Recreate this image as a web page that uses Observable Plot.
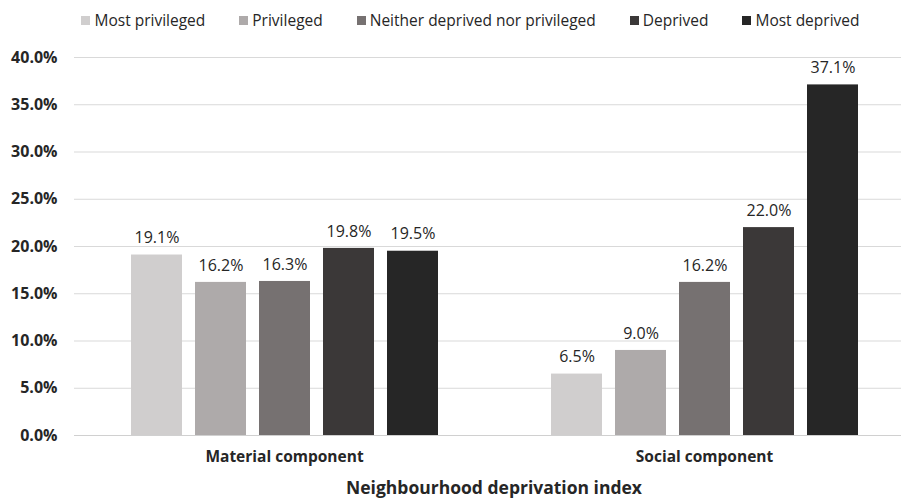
<!DOCTYPE html>
<html>
<head>
<meta charset="utf-8">
<script src="https://cdn.jsdelivr.net/npm/d3@7"></script>
<script src="https://cdn.jsdelivr.net/npm/@observablehq/plot@0.6"></script>
<style>
  html, body { margin: 0; padding: 0; background: #fff; }
  body { width: 901px; height: 498px; overflow: hidden; font-family: "Open Sans", "Noto Sans", sans-serif; }
  #legend { height: 40px; display: flex; align-items: center; justify-content: center; padding-left: 40px; box-sizing: border-box; font-size: 15.5px; color: #262626; }
  .item { display: flex; align-items: center; margin: 0 17px; }
  .sw { width: 9px; height: 9px; margin-right: 4px; }
  #caption { height: 22px; line-height: 22px; text-align: center; padding-left: 87px; font-weight: bold; font-size: 17.5px; color: #262626; }
</style>
</head>
<body>
<div id="legend"></div>
<div id="chart"></div>
<div id="caption"></div>
<script>
const groups = ["Material component", "Social component"];
const levels = ["Most privileged", "Privileged", "Neither deprived nor privileged", "Deprived", "Most deprived"];
const materialValues = [19.1, 16.2, 16.3, 19.8, 19.5];
const socialValues = [6.5, 9.0, 16.2, 22.0, 37.1];
const colors = ["#d0cece", "#aeaaaa", "#767171", "#3b3838", "#262626"];
const yTicks = [0, 5, 10, 15, 20, 25, 30, 35, 40];
const axisTitle = "Neighbourhood deprivation index";

const data = [];
levels.forEach((l, i) => data.push({group: groups[0], level: l, value: materialValues[i]}));
levels.forEach((l, i) => data.push({group: groups[1], level: l, value: socialValues[i]}));

const legend = document.getElementById("legend");
levels.forEach((l, i) => {
  const it = document.createElement("div");
  it.className = "item";
  const sw = document.createElement("div");
  sw.className = "sw";
  sw.style.background = colors[i];
  const t = document.createElement("span");
  t.textContent = l;
  it.appendChild(sw); it.appendChild(t);
  legend.appendChild(it);
});
document.getElementById("caption").textContent = axisTitle;

const chart = Plot.plot({
  width: 901,
  height: 436,
  marginTop: 17,
  marginBottom: 41,
  marginLeft: 74,
  marginRight: 0,
  style: {fontFamily: "Open Sans, Noto Sans, sans-serif", color: "#262626", display: "block"},
  fx: {domain: groups, range: [74, 914], padding: 0, label: null},
  x: {domain: levels, range: [130, 439], paddingInner: 0.21, paddingOuter: 0, axis: null},
  y: {domain: [0, 40], label: null},
  color: {domain: levels, range: colors},
  marks: [
    Plot.gridY(yTicks, {stroke: "#d9d9d9", strokeOpacity: 1}),
    Plot.barY(data, {fx: "group", x: "level", y: "value", fill: "level"}),
    Plot.ruleY([0], {stroke: "#d0d0d0"}),
    Plot.text(data, {fx: "group", x: "level", y: "value", text: d => d.value.toFixed(1) + "%", dy: -17, fontSize: 16, fill: "#262626"}),
    Plot.axisY({ticks: yTicks, tickSize: 0, tickPadding: 17, tickFormat: d => d.toFixed(1) + "%", fontWeight: "bold", fontSize: 16, label: null}),
    Plot.axisFx({anchor: "bottom", tickSize: 0, tickPadding: 15, fontWeight: "bold", fontSize: 15.5, label: null})
  ]
});
document.getElementById("chart").appendChild(chart);
</script>
</body>
</html>
